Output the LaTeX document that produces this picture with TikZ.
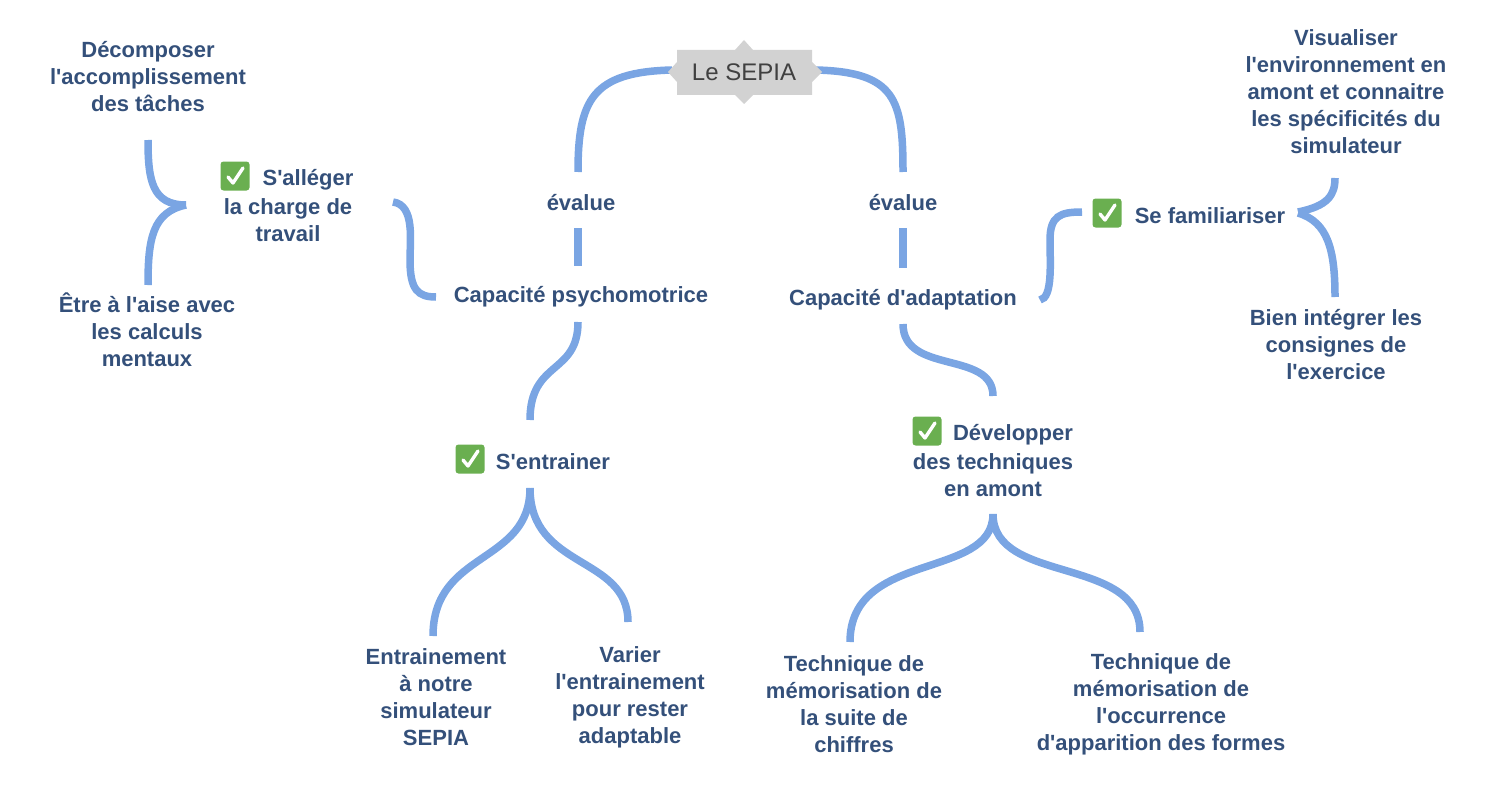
\documentclass[tikz,border=0pt]{standalone}
\usepackage{fontspec}
\setmainfont{Liberation Sans}
\newcommand\q{\textquotesingle}
\definecolor{txt}{HTML}{34507A}
\definecolor{lnk}{HTML}{7AA5E3}
\definecolor{chkg}{HTML}{6AAF50}
\begin{document}
\begin{tikzpicture}[x=1pt,y=-1pt,
  lbl/.style={text=txt,font=\fontsize{22}{27}\selectfont\bfseries,align=center,inner sep=0pt},
  con/.style={draw=lnk,line width=7.5pt,line cap=butt},
  ck/.style={fill=chkg,rounded corners=3pt,minimum size=29pt,inner sep=0pt}]
\useasboundingbox (0,0) rectangle (1512,789);
% connectors
\draw[con] (672,70) .. controls (592,72) and (578,100) .. (578,172);
\draw[con] (816,70) .. controls (896,72) and (903,100) .. (903,172);
\draw[con] (578,228) -- (578,266);
\draw[con] (903,228) -- (903,268);
\draw[con] (393,202) .. controls (415,205) and (410,240) .. (410,260) .. controls (410,290) and (418,297) .. (436,297);
\draw[con] (186,205) .. controls (152,205) and (148,180) .. (148,140);
\draw[con] (186,205) .. controls (152,212) and (148,240) .. (148,285);
\draw[con] (578,322) .. controls (578,375) and (530,360) .. (530,420);
\draw[con] (530,488) .. controls (530,565) and (433,550) .. (433,636);
\draw[con] (530,488) .. controls (530,570) and (628,555) .. (628,622);
\draw[con] (1040,300) .. controls (1053,298) and (1050,262) .. (1050,240) .. controls (1050,216) and (1060,212) .. (1082,212);
\draw[con] (1298,212) .. controls (1328,206) and (1335,195) .. (1335,178);
\draw[con] (1298,213) .. controls (1328,222) and (1335,250) .. (1335,297);
\draw[con] (903,324) .. controls (903,375) and (993,350) .. (993,396);
\draw[con] (993,514) .. controls (993,580) and (850,550) .. (850,642);
\draw[con] (993,514) .. controls (993,585) and (1140,555) .. (1140,632);
% root
\fill[gray!35] (677,50) -- (735,50) -- (744,40) -- (753,50) -- (812,50) -- (812,62) -- (822,72) -- (812,82) -- (812,95) -- (753,95) -- (744,104) -- (735,95) -- (677,95) -- (677,82) -- (668,72) -- (677,62) -- cycle;
\node[text=black!75,font=\fontsize{24}{28}\selectfont,inner sep=0pt] (root) at (744,72) {Le SEPIA};
% labels
\node[lbl] (ev1) at (581,203) {évalue};
\node[lbl] (ev2) at (903,203) {évalue};
\node[lbl] (cp) at (581,297) {Capacité psychomotrice};
\node[lbl] (ca) at (903,300) {Capacité d\q adaptation};
\node[lbl] (al1) at (308,180) {S\q alléger};
\node[lbl] (al2) at (288,220) {la charge de\\travail};
\node[ck] (c1) at (235,176) {};
\node[lbl] (dec) at (148,77) {Décomposer\\l\q accomplissement\\des tâches};
\node[lbl] (etr) at (147,330) {Être à l\q aise avec\\les calculs\\mentaux};
\node[ck] (c2) at (470,459) {};
\node[lbl] (ent) at (553,462) {S\q entrainer};
\node[lbl] (en1) at (436,697) {Entrainement\\à notre\\simulateur\\SEPIA};
\node[lbl] (var) at (630,697) {Varier\\l\q entrainement\\pour rester\\adaptable};
\node[ck] (c3) at (927,431) {};
\node[lbl] (dv1) at (1013,435) {Développer};
\node[lbl] (dv2) at (993,475) {des techniques\\en amont};
\node[lbl] (t1) at (854,704) {Technique de\\mémorisation de\\la suite de\\chiffres};
\node[lbl] (t2) at (1161,704) {Technique de\\mémorisation de\\l\q occurrence\\d\q apparition des formes};
\node[ck] (c4) at (1107,213) {};
\node[lbl] (sf) at (1210,216) {Se familiariser};
\node[lbl] (vis) at (1346,92) {Visualiser\\l\q environnement en\\amont et connaitre\\les spécificités du\\simulateur};
\node[lbl] (bie) at (1336,345) {Bien intégrer les\\consignes de\\l\q exercice};
% check marks
\foreach \c in {c1,c2,c3,c4}{
  \draw[white,line width=3.4pt,line cap=round,line join=round]
    ([shift={(-7,1)}]\c.center) -- ([shift={(-2,7)}]\c.center) -- ([shift={(8,-8)}]\c.center);
}
\end{tikzpicture}
\end{document}
